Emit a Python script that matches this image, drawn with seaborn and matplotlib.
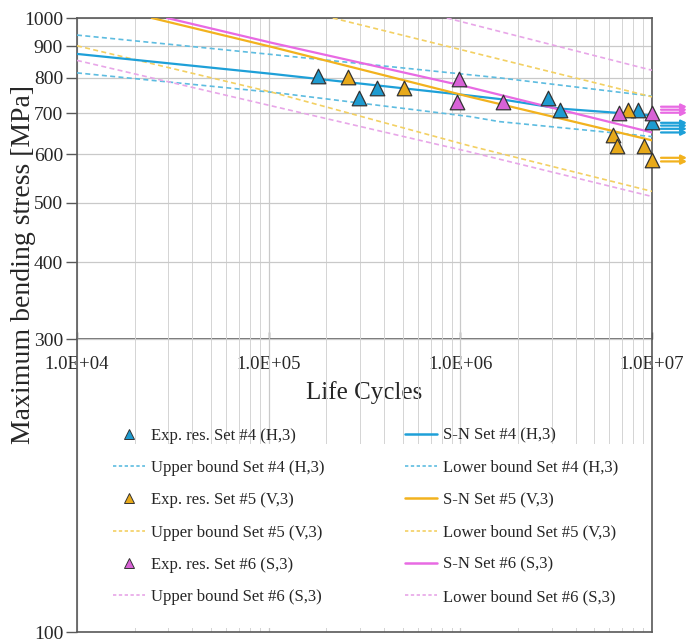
import numpy as np
import pandas as pd
import matplotlib
matplotlib.use("Agg")
import matplotlib.pyplot as plt
import matplotlib.ticker as mticker
from matplotlib.lines import Line2D
from matplotlib.patches import Rectangle
from matplotlib.transforms import offset_copy
import seaborn as sns

# ---------------- data ----------------
# Experimental results (cycles, stress MPa)
exp4_N = [1.81e5, 2.96e5, 3.67e5, 2.86e6, 3.31e6, 8.44e6, 1.0e7]
exp4_S = [805, 741, 770, 741, 709, 709, 678]
exp5_N = [2.59e5, 5.08e5, 6.25e6, 6.56e6, 7.49e6, 9.08e6, 1.0e7]
exp5_S = [803, 770, 646, 618, 709, 618, 588]
exp6_N = [9.84e5, 9.6e5, 1.67e6, 6.72e6, 1.0e7]
exp6_S = [795, 731, 729, 701, 701]

# S-N curves
sn4_N = [1e4, 1.04e5, 1.1e6, 1.6e6, 3.3e6, 1e7]
sn4_S = [874, 811, 748, 738, 712, 694]
sn5_N = [2.46e4, 1.04e5, 1.1e6, 1e7]
sn5_S = [1000, 897, 745, 632]
sn6_N = [2.95e4, 1.04e5, 1.1e6, 1e7]
sn6_S = [1000, 911, 772, 651]

# Bounds
up4_N = [1e4, 1.08e5, 1.6e6, 1e7]
up4_S = [938, 871, 799, 746]
lo4_N = [1e4, 1.08e5, 1.12e6, 1.6e6, 1e7]
lo4_S = [814, 756, 691, 678, 641]
up5_N = [2.16e5, 1e7]
up5_S = [1000, 744]
lo5_N = [1e4, 1.04e5, 1.1e6, 1e7]
lo5_S = [901, 757, 620, 522]
up6_N = [8.5e5, 1e7]
up6_S = [1000, 822]
lo6_N = [1e4, 1.08e5, 1.1e6, 1e7]
lo6_S = [853, 717, 606, 512]

# Run-outs (arrows at 1e7 cycles)
runout_N = 1e7
runout4_S = [675, 668, 660, 651]
runout5_S = [592, 584]
runout6_S = [717, 709, 701]

x_ticks = [1e4, 1e5, 1e6, 1e7]
y_ticks = [100, 300, 400, 500, 600, 700, 800, 900, 1000]

labels = {
    "exp4": "Exp. res. Set #4 (H,3)", "sn4": "S-N Set #4 (H,3)",
    "up4": "Upper bound Set #4 (H,3)", "lo4": "Lower bound Set #4 (H,3)",
    "exp5": "Exp. res. Set #5 (V,3)", "sn5": "S-N Set #5 (V,3)",
    "up5": "Upper bound Set #5 (V,3)", "lo5": "Lower bound Set #5 (V,3)",
    "exp6": "Exp. res. Set #6 (S,3)", "sn6": "S-N Set #6 (S,3)",
    "up6": "Upper bound Set #6 (S,3)", "lo6": "Lower bound Set #6 (S,3)",
}

# ---------------- styling ----------------
sns.set_theme(style="white")
plt.rcParams["font.family"] = ["Liberation Serif", "DejaVu Serif"]

C4, C5, C6 = "#1EA0D8", "#F2B21E", "#E86AE3"
M4, M5, M6 = "#1E9BD0", "#E7A91A", "#D862D6"
D4, D5, D6 = "#5DBCE0", "#F3D062", "#E8A6E8"
EDGE = "#333333"
SPINE = "#595959"

fig = plt.figure(figsize=(6.88, 6.43), dpi=100)
ax = fig.add_axes([0.1119, 0.0171, 0.8358, 0.9549])
ax.set_xscale("log")
ax.set_yscale("log")
ax.set_xlim(1e4, 1e7)
ax.set_ylim(100, 1000)
ax.set_axisbelow(True)

dash = (3, 2)
def line(N, S, color, dashed=False, lw=1.6):
    df = pd.DataFrame({"N": N, "S": S})
    sns.lineplot(data=df, x="N", y="S", ax=ax, color=color, lw=lw,
                 estimator=None, sort=False, legend=False,
                 linestyle=(0, dash) if dashed else "-", zorder=3)

line(up4_N, up4_S, D4, True, 1.2)
line(lo4_N, lo4_S, D4, True, 1.2)
line(up5_N, up5_S, D5, True, 1.2)
line(lo5_N, lo5_S, D5, True, 1.2)
line(up6_N, up6_S, D6, True, 1.2)
line(lo6_N, lo6_S, D6, True, 1.2)
line(sn4_N, sn4_S, C4)
line(sn5_N, sn5_S, C5)
line(sn6_N, sn6_S, C6)

def pts(N, S, color):
    df = pd.DataFrame({"N": N, "S": S})
    sns.scatterplot(data=df, x="N", y="S", ax=ax, marker="^", s=110,
                    color=color, edgecolor=EDGE, linewidth=0.9,
                    legend=False, zorder=5, clip_on=False)

pts(exp4_N, exp4_S, M4)
pts(exp5_N, exp5_S, M5)
pts(exp6_N, exp6_S, M6)

# run-out arrows
arrow_tr = offset_copy(ax.transData, fig=fig, x=35, y=0, units="dots")
for vals, col in [(runout6_S, C6), (runout4_S, C4), (runout5_S, C5)]:
    for v in vals:
        ax.annotate("", xy=(runout_N, v), xycoords=arrow_tr,
                    xytext=(-26, 0), textcoords="offset pixels",
                    arrowprops=dict(arrowstyle="-|>", color=col, lw=1.6,
                                    mutation_scale=8, shrinkA=0, shrinkB=0),
                    annotation_clip=False)

# grid
ax.yaxis.set_major_locator(mticker.FixedLocator(y_ticks))
ax.yaxis.set_minor_locator(mticker.FixedLocator([200]))
ax.yaxis.set_major_formatter(mticker.FuncFormatter(lambda v, p: f"{v:.0f}"))
ax.yaxis.set_minor_formatter(mticker.NullFormatter())
ax.xaxis.set_major_locator(mticker.FixedLocator(x_ticks))
ax.xaxis.set_minor_locator(mticker.LogLocator(base=10, subs=np.arange(2, 10)))
ax.grid(which="major", axis="both", color="#c9c9c9", lw=0.9, zorder=0.5)
ax.grid(which="minor", axis="x", color="#d4d4d4", lw=0.7, zorder=0.5)

ax.tick_params(axis="y", which="major", direction="out", length=8, width=1,
               color=SPINE, labelsize=14, pad=2, left=True, right=False)
ax.tick_params(axis="y", which="minor", length=0)
ax.tick_params(axis="x", which="both", length=0, labelbottom=False)
for s in ax.spines.values():
    s.set_color(SPINE)
    s.set_linewidth(1.2)
ax.set_xlabel("")
ax.set_ylabel("Maximum bending stress [MPa]", fontsize=20)
ax.yaxis.set_label_coords(-0.071, 0.598)

# x axis drawn at 300 MPa
sec = ax.secondary_xaxis(np.log10(300 / 100))
sec.xaxis.set_major_locator(mticker.FixedLocator(x_ticks))
sec.xaxis.set_minor_locator(mticker.NullLocator())
sec.xaxis.set_major_formatter(mticker.FuncFormatter(lambda v, p: f"{v:.1E}"))
sec.tick_params(axis="x", direction="in", length=5, width=1, color=SPINE,
                labelsize=13.5, pad=12)
sec.spines["bottom"].set_color(SPINE)
sec.spines["bottom"].set_linewidth(1.2)
sec.set_xlabel("Life Cycles", fontsize=18, labelpad=6)

# white legend area
ax.add_patch(Rectangle((0.005, 0.0065), 0.983, 0.2995, transform=ax.transAxes,
                       facecolor="white", edgecolor="none", zorder=1))

def mk(c):
    return Line2D([], [], ls="none", marker="^", markersize=7,
                  markerfacecolor=c, markeredgecolor=EDGE, markeredgewidth=0.7)
def ln(c, dashed=False):
    return Line2D([], [], color=c, lw=1.2 if dashed else 1.8,
                  ls=(0, (2, 1.5)) if dashed else "-")

handles = [mk(M4), ln(D4, True), mk(M5), ln(D5, True), mk(M6), ln(D6, True),
           ln(C4), ln(D4, True), ln(C5), ln(D5, True), ln(C6), ln(D6, True)]
labs = [labels[k] for k in ["exp4", "up4", "exp5", "up5", "exp6", "up6",
                            "sn4", "lo4", "sn5", "lo5", "sn6", "lo6"]]
leg = ax.legend(handles, labs, ncol=2, loc="upper left",
                bbox_to_anchor=(0.0626, 0.333), borderaxespad=0, borderpad=0,
                frameon=False, fontsize=12, handlelength=1.95,
                handletextpad=0.35, labelspacing=0.98, columnspacing=4.8)
leg.set_zorder(10)

fig.savefig("out.png", dpi=100)
